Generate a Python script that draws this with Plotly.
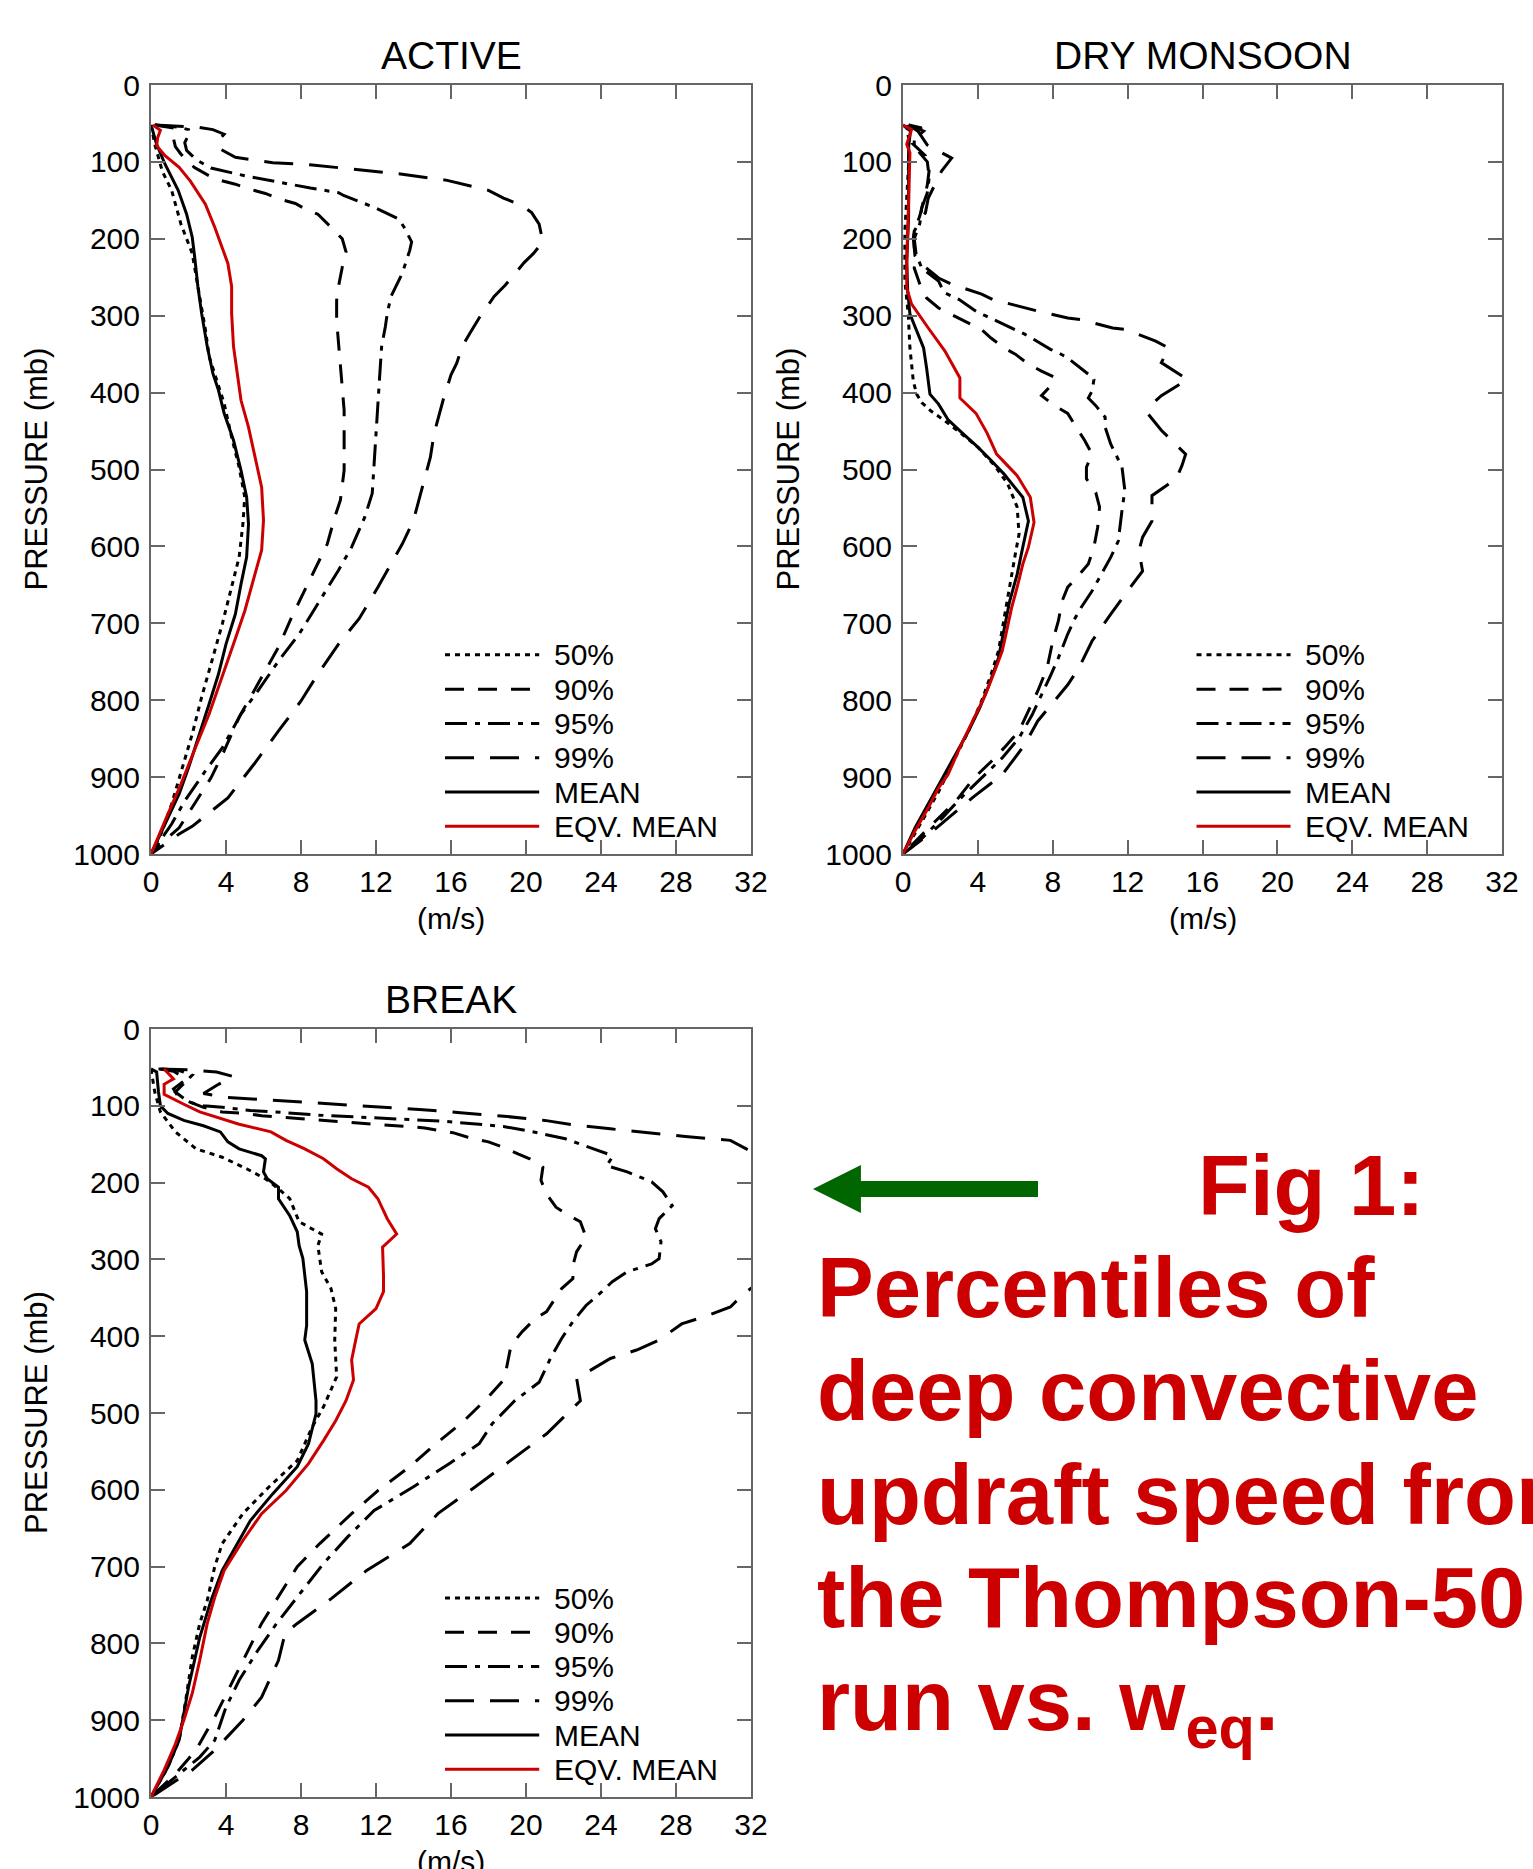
import plotly.graph_objects as go

# ---------------- DATA (pressure in mb, updraft speed in m/s) ----------------
ACTIVE_P50_p = [52, 77, 112, 137, 181, 219, 262, 318, 353, 375, 414, 458, 497, 536, 571, 614, 653, 701, 753, 796, 844, 892, 935, 970, 1000]
ACTIVE_P50_w = [0.0, 0.2, 0.6, 1.1, 1.6, 2.2, 2.5, 2.9, 3.1, 3.4, 3.9, 4.3, 4.7, 5.0, 4.9, 4.7, 4.3, 3.8, 3.2, 2.7, 2.2, 1.6, 1.1, 0.6, 0.0]
ACTIVE_P90_p = [52, 56, 62, 70, 80, 90, 107, 118, 124, 129, 135, 141, 148, 154, 161, 168, 185, 200, 217, 237, 262, 280, 306, 362, 401, 423, 466, 501, 540, 562, 597, 627, 657, 692, 731, 762, 792, 822, 866, 901, 935, 966, 983, 1000]
ACTIVE_P90_w = [0.2, 1.2, 1.4, 1.2, 1.3, 1.6, 2.3, 3.1, 3.7, 4.5, 5.2, 6.1, 6.8, 7.7, 8.2, 8.9, 9.6, 10.2, 10.4, 10.2, 10.0, 9.9, 9.9, 10.1, 10.2, 10.3, 10.3, 10.3, 10.1, 9.8, 9.4, 8.8, 8.2, 7.5, 6.8, 6.1, 5.4, 4.7, 3.9, 3.2, 2.3, 1.5, 0.7, 0.0]
ACTIVE_P95_p = [52, 55, 58, 65, 75, 85, 97, 108, 118, 126, 131, 134, 140, 144, 159, 166, 174, 185, 204, 215, 245, 275, 297, 314, 340, 377, 414, 458, 501, 531, 562, 601, 631, 675, 714, 749, 788, 818, 862, 892, 931, 961, 1000]
ACTIVE_P95_w = [0.2, 1.5, 2.0, 2.0, 1.8, 1.9, 2.4, 3.2, 5.0, 6.7, 7.8, 8.5, 10.0, 10.3, 11.9, 12.5, 13.2, 13.5, 13.9, 13.8, 13.4, 12.8, 12.6, 12.5, 12.3, 12.2, 12.1, 12.0, 11.9, 11.8, 11.4, 10.7, 10.0, 8.9, 7.9, 6.8, 5.7, 4.8, 3.8, 2.9, 1.8, 1.1, 0.0]
ACTIVE_P99_p = [52, 55, 58, 64, 72, 82, 94, 101, 104, 110, 116, 124, 137, 147, 157, 166, 181, 204, 219, 231, 260, 275, 303, 323, 340, 362, 377, 408, 453, 484, 529, 566, 597, 653, 694, 727, 766, 801, 840, 883, 927, 944, 964, 974, 1000]
ACTIVE_P99_w = [0.2, 2.5, 3.3, 3.9, 3.6, 3.6, 4.5, 6.5, 8.6, 11.1, 13.4, 15.8, 18.0, 18.8, 19.8, 20.3, 20.7, 20.9, 20.4, 19.9, 18.9, 18.3, 17.5, 17.0, 16.6, 16.3, 16.0, 15.6, 15.1, 14.9, 14.4, 14.0, 13.4, 12.1, 11.1, 10.0, 8.9, 8.0, 6.8, 5.5, 4.1, 3.2, 2.2, 1.5, 0.0]
ACTIVE_MEAN_p = [52, 77, 103, 137, 168, 198, 228, 262, 297, 340, 375, 397, 427, 462, 501, 536, 571, 614, 649, 688, 727, 766, 805, 844, 888, 922, 953, 979, 1000]
ACTIVE_MEAN_w = [0.0, 0.3, 0.75, 1.45, 1.9, 2.2, 2.35, 2.5, 2.7, 3.0, 3.3, 3.6, 3.9, 4.4, 4.8, 5.1, 5.2, 5.1, 4.8, 4.5, 4.0, 3.6, 3.1, 2.6, 2.0, 1.5, 0.9, 0.4, 0.0]
ACTIVE_EQV_p = [52, 59, 69, 79, 92, 107, 125, 155, 185, 232, 262, 297, 340, 375, 410, 445, 492, 523, 566, 605, 640, 684, 727, 770, 818, 866, 909, 948, 1000]
ACTIVE_EQV_w = [0.1, 0.5, 0.35, 0.3, 0.75, 1.5, 2.1, 2.9, 3.4, 4.1, 4.3, 4.3, 4.4, 4.6, 4.8, 5.2, 5.6, 5.9, 6.0, 5.9, 5.5, 5.0, 4.4, 3.8, 3.1, 2.3, 1.6, 0.9, 0.0]

DRY_P50_p = [52, 70, 103, 147, 190, 255, 298, 342, 385, 402, 413, 424, 436, 453, 471, 495, 519, 549, 584, 610, 653, 693, 736, 767, 801, 840, 880, 919, 958, 1000]
DRY_P50_w = [0.2, 0.3, 0.3, 0.2, 0.1, 0.1, 0.28, 0.37, 0.55, 0.73, 1.0, 1.5, 2.2, 3.1, 4.0, 4.9, 5.6, 6.1, 6.2, 6.0, 5.7, 5.4, 5.1, 4.7, 4.2, 3.5, 2.7, 1.9, 1.0, 0.0]
DRY_P90_p = [52, 56, 65, 76, 92, 110, 130, 150, 170, 190, 210, 222, 238, 259, 277, 290, 303, 307, 318, 329, 342, 350, 363, 372, 380, 391, 404, 417, 427, 443, 462, 480, 497, 512, 530, 549, 575, 601, 623, 640, 653, 671, 697, 723, 758, 788, 814, 840, 862, 880, 901, 932, 958, 980, 1000]
DRY_P90_w = [0.3, 1.0, 0.5, 0.5, 1.2, 1.4, 1.3, 1.1, 0.9, 0.6, 0.6, 0.7, 0.6, 0.9, 1.26, 1.9, 3.0, 3.3, 4.2, 4.7, 5.4, 6.0, 6.7, 7.4, 8.1, 7.9, 7.4, 8.1, 8.8, 9.2, 9.7, 10.1, 9.8, 9.8, 10.3, 10.5, 10.4, 10.2, 9.9, 9.3, 8.8, 8.5, 8.3, 8.0, 7.7, 7.2, 6.7, 6.2, 5.4, 4.7, 3.8, 2.8, 1.7, 0.8, 0.0]
DRY_P95_p = [52, 60, 70, 80, 100, 120, 140, 160, 180, 200, 220, 238, 255, 270, 279, 296, 300, 307, 320, 324, 331, 344, 348, 355, 376, 383, 398, 407, 417, 432, 445, 467, 497, 527, 553, 593, 614, 636, 658, 680, 693, 714, 745, 767, 793, 819, 849, 875, 901, 927, 953, 980, 1000]
DRY_P95_w = [0.3, 1.1, 0.6, 0.6, 1.3, 1.4, 1.3, 1.0, 0.9, 0.6, 0.7, 1.0, 1.9, 2.2, 3.0, 4.0, 4.4, 5.0, 6.1, 6.5, 7.0, 7.9, 8.3, 8.8, 9.9, 10.2, 10.1, 9.9, 10.3, 10.8, 10.8, 11.1, 11.7, 11.85, 11.7, 11.5, 11.1, 10.6, 10.1, 9.5, 9.2, 8.8, 8.3, 7.9, 7.4, 6.9, 6.2, 5.3, 4.2, 3.1, 2.1, 1.0, 0.0]
DRY_P99_p = [52, 60, 78, 95, 112, 147, 166, 190, 199, 222, 231, 251, 259, 272, 279, 290, 294, 303, 305, 316, 318, 333, 342, 361, 372, 383, 404, 415, 428, 449, 480, 495, 512, 534, 567, 588, 606, 632, 658, 688, 723, 758, 780, 801, 827, 858, 897, 925, 949, 975, 1000]
DRY_P99_w = [0.3, 0.8, 1.3, 2.6, 2.06, 1.35, 1.2, 0.6, 0.55, 0.64, 0.9, 1.9, 2.6, 4.2, 4.8, 6.5, 7.2, 8.8, 9.5, 11.2, 11.9, 13.5, 14.2, 13.8, 14.5, 15.2, 13.8, 13.3, 13.1, 13.8, 15.1, 14.9, 14.6, 13.3, 13.3, 12.8, 12.6, 12.8, 12.0, 11.1, 10.1, 9.4, 8.8, 8.1, 7.2, 6.5, 5.3, 3.8, 2.6, 1.35, 0.0]
DRY_MEAN_p = [52, 60, 80, 120, 170, 229, 268, 298, 324, 342, 368, 402, 415, 435, 451, 471, 488, 506, 536, 567, 601, 636, 671, 706, 745, 780, 810, 840, 871, 901, 936, 966, 1000]
DRY_MEAN_w = [0.0, 0.4, 0.3, 0.3, 0.3, 0.2, 0.25, 0.37, 0.8, 1.1, 1.26, 1.44, 1.9, 2.4, 3.1, 4.0, 4.7, 5.4, 6.4, 6.7, 6.4, 6.1, 5.7, 5.4, 5.1, 4.6, 4.1, 3.5, 2.8, 2.1, 1.35, 0.64, 0.0]
DRY_EQV_p = [52, 58, 77, 88, 168, 229, 264, 285, 316, 346, 381, 407, 427, 453, 480, 493, 508, 536, 569, 601, 623, 653, 680, 714, 736, 762, 793, 823, 858, 897, 914, 940, 970, 1000]
DRY_EQV_w = [0.0, 0.46, 0.2, 0.37, 0.28, 0.2, 0.2, 0.46, 1.35, 2.24, 3.04, 3.04, 3.9, 4.5, 5.0, 5.5, 6.1, 6.8, 7.0, 6.7, 6.4, 6.1, 5.8, 5.5, 5.3, 4.9, 4.4, 3.8, 3.1, 2.4, 1.9, 1.35, 0.64, 0.0]

BREAK_P50_p = [52, 82, 108, 134, 156, 167, 182, 195, 208, 221, 251, 258, 267, 282, 316, 338, 364, 405, 453, 492, 518, 562, 596, 631, 670, 700, 744, 774, 818, 874, 926, 961, 1000]
BREAK_P50_w = [0.0, 0.2, 0.5, 1.3, 2.4, 3.8, 5.1, 6.1, 6.8, 7.4, 7.9, 8.4, 9.1, 8.9, 9.1, 9.6, 9.85, 9.8, 9.9, 9.2, 8.6, 7.8, 6.3, 4.9, 3.8, 3.4, 3.0, 2.6, 2.2, 1.85, 1.5, 0.9, 0.0]
BREAK_P90_p = [52, 55, 65, 78, 90, 102, 108, 110, 113, 117, 119, 122, 124, 127, 129, 135, 141, 147, 154, 163, 169, 180, 197, 215, 232, 243, 251, 271, 290, 308, 325, 338, 360, 368, 377, 394, 412, 425, 449, 457, 479, 510, 544, 570, 601, 631, 670, 700, 735, 774, 813, 857, 896, 939, 970, 1000]
BREAK_P90_w = [0.5, 1.2, 1.9, 1.2, 1.5, 2.8, 3.8, 5.1, 5.9, 8.0, 9.1, 10.9, 11.9, 13.8, 14.6, 16.1, 16.9, 18.0, 18.8, 19.6, 20.2, 20.9, 20.8, 21.1, 21.6, 22.3, 22.9, 23.2, 22.7, 22.5, 22.5, 21.9, 21.3, 21.1, 20.5, 19.8, 19.2, 19.1, 18.9, 18.8, 18.0, 16.7, 15.0, 13.8, 12.1, 10.7, 9.0, 7.8, 6.9, 5.9, 5.1, 4.2, 3.4, 2.4, 1.3, 0.0]
BREAK_P95_p = [52, 54, 60, 70, 82, 95, 100, 102, 106, 109, 112, 114, 116, 118, 120, 124, 127, 133, 143, 156, 163, 167, 178, 186, 199, 212, 230, 247, 260, 277, 299, 306, 316, 329, 343, 360, 381, 403, 429, 460, 484, 514, 540, 566, 596, 627, 661, 696, 740, 774, 809, 848, 883, 926, 948, 970, 1000]
BREAK_P95_w = [0.6, 1.5, 2.2, 1.8, 1.3, 2.0, 2.8, 3.8, 5.3, 7.2, 8.8, 10.5, 12.1, 14.0, 15.5, 17.5, 18.8, 20.2, 22.1, 23.6, 24.4, 24.6, 24.3, 25.4, 26.7, 27.3, 27.8, 27.1, 26.9, 27.2, 27.1, 26.7, 25.4, 24.6, 24.0, 23.2, 22.5, 21.9, 21.3, 20.7, 19.4, 18.2, 17.5, 15.9, 14.0, 11.9, 10.5, 9.2, 7.8, 6.7, 5.7, 4.7, 4.0, 3.4, 2.6, 1.5, 0.0]
BREAK_P99_p = [52, 53, 56, 62, 72, 84, 89, 91, 94, 97, 101, 105, 109, 114, 119, 125, 130, 135, 140, 145, 162, 200, 260, 320, 345, 362, 373, 384, 405, 418, 429, 455, 484, 527, 562, 596, 631, 670, 705, 742, 774, 787, 822, 870, 900, 939, 965, 983, 1000]
BREAK_P99_w = [0.4, 2.0, 3.5, 4.4, 3.6, 2.8, 4.0, 5.3, 7.0, 9.5, 12.0, 14.5, 16.5, 19.0, 21.0, 22.6, 24.5, 26.5, 28.5, 30.9, 32.2, 34.0, 34.5, 33.0, 31.6, 30.9, 29.7, 28.3, 27.1, 25.9, 24.5, 22.7, 22.9, 21.1, 19.2, 17.3, 15.3, 13.8, 11.5, 9.6, 7.8, 7.15, 6.8, 5.9, 4.9, 3.4, 2.2, 1.1, 0.0]
BREAK_MEAN_p = [52, 56, 82, 100, 110, 119, 126, 134, 147, 156, 165, 169, 186, 195, 206, 221, 243, 264, 282, 299, 342, 386, 405, 436, 484, 501, 540, 570, 605, 640, 705, 744, 792, 857, 926, 961, 1000]
BREAK_MEAN_w = [0.0, 0.3, 0.4, 0.5, 0.9, 1.75, 2.8, 3.7, 4.1, 4.7, 5.9, 6.1, 6.0, 6.2, 6.8, 6.8, 7.4, 7.8, 7.9, 8.1, 8.3, 8.3, 8.2, 8.6, 8.8, 8.8, 8.4, 7.8, 6.5, 5.3, 3.8, 3.2, 2.6, 2.0, 1.5, 0.9, 0.0]
BREAK_EQV_p = [52, 65, 72, 85, 98, 108, 124, 134, 145, 156, 169, 182, 195, 206, 221, 247, 267, 284, 321, 342, 364, 384, 407, 431, 457, 484, 510, 536, 566, 601, 631, 666, 705, 740, 774, 822, 865, 900, 931, 965, 1000]
BREAK_EQV_w = [0.7, 1.2, 0.7, 0.7, 1.75, 2.6, 4.7, 6.4, 7.2, 8.2, 9.2, 9.9, 10.7, 11.6, 12.1, 12.6, 13.1, 12.35, 12.4, 12.4, 12.0, 11.1, 10.9, 10.7, 10.8, 10.4, 9.85, 9.2, 8.4, 7.2, 5.9, 4.9, 3.9, 3.4, 3.0, 2.6, 2.2, 1.75, 1.3, 0.7, 0.0]

PANEL_TITLES = ["ACTIVE", "DRY MONSOON", "BREAK"]
SERIES_NAMES = ["50%", "90%", "95%", "99%", "MEAN", "EQV. MEAN"]
X_TICKS = [0, 4, 8, 12, 16, 20, 24, 28, 32]
Y_TICKS = [0, 100, 200, 300, 400, 500, 600, 700, 800, 900, 1000]
CAPTION_LINES = ["Percentiles of", "deep convective", "updraft speed from",
                 "the Thompson-50", "run vs. w<sub>eq</sub>."]

PANELS = [
    [(ACTIVE_P50_w, ACTIVE_P50_p), (ACTIVE_P90_w, ACTIVE_P90_p), (ACTIVE_P95_w, ACTIVE_P95_p),
     (ACTIVE_P99_w, ACTIVE_P99_p), (ACTIVE_MEAN_w, ACTIVE_MEAN_p), (ACTIVE_EQV_w, ACTIVE_EQV_p)],
    [(DRY_P50_w, DRY_P50_p), (DRY_P90_w, DRY_P90_p), (DRY_P95_w, DRY_P95_p),
     (DRY_P99_w, DRY_P99_p), (DRY_MEAN_w, DRY_MEAN_p), (DRY_EQV_w, DRY_EQV_p)],
    [(BREAK_P50_w, BREAK_P50_p), (BREAK_P90_w, BREAK_P90_p), (BREAK_P95_w, BREAK_P95_p),
     (BREAK_P99_w, BREAK_P99_p), (BREAK_MEAN_w, BREAK_MEAN_p), (BREAK_EQV_w, BREAK_EQV_p)],
]

# ---------------- STYLE ----------------
W, H = 1533, 1869
FONT = "Liberation Sans, Arial, Helvetica, sans-serif"
RED = "#cc0000"
STYLES = [("black", "5px,5px"), ("black", "19px,14px"), ("black", "22px,8px,5px,8px"),
          ("black", "29px,16px"), ("black", "solid"), (RED, "solid")]
AXCOL = "#666666"

# pixel boxes (left, right, top, bottom)
BOXES = [(151, 751, 85, 854), (903, 1502, 85, 854), (151, 751, 1029, 1797)]


def px(x):
    return x / W


def py(y):
    return 1 - y / H


fig = go.Figure()
annotations = []
shapes = []

for i, (series, box) in enumerate(zip(PANELS, BOXES)):
    n = "" if i == 0 else str(i + 1)
    xa, ya = "x" + n, "y" + n
    l, r, t, b = box
    for (w, p), name, (col, dash) in zip(series, SERIES_NAMES, STYLES):
        fig.add_trace(go.Scatter(x=w, y=p, mode="lines", name=name, showlegend=False,
                                 line=dict(color=col, width=3, dash=dash),
                                 xaxis=xa, yaxis=ya))
    axis_common = dict(showgrid=False, zeroline=False, showline=True, mirror="allticks",
                       linecolor=AXCOL, linewidth=2, ticks="inside", ticklen=14,
                       tickwidth=2, tickcolor=AXCOL, automargin=False,
                       tickfont=dict(family=FONT, size=30, color="black"))
    fig.update_layout(**{
        "xaxis" + n: dict(domain=[px(l), px(r)], range=[0, 32], tickvals=X_TICKS,
                          anchor=ya, **axis_common),
        "yaxis" + n: dict(domain=[py(b), py(t)], range=[1000, 0], tickvals=Y_TICKS,
                          anchor=xa, ticklabelstandoff=3, **axis_common),
    })
    cx = (l + r) / 2
    annotations.append(dict(text=PANEL_TITLES[i], x=px(cx), y=py(t - 30), xref="paper", yref="paper",
                            showarrow=False, font=dict(family=FONT, size=39, color="black"),
                            xanchor="center", yanchor="middle"))
    annotations.append(dict(text="(m/s)", x=px(cx), y=py(b + 64), xref="paper", yref="paper",
                            showarrow=False, font=dict(family=FONT, size=30, color="black"),
                            xanchor="center", yanchor="middle"))
    annotations.append(dict(text="PRESSURE (mb)", x=px(l - 115), y=py((t + b) / 2),
                            xref="paper", yref="paper", textangle=-90, showarrow=False,
                            font=dict(family=FONT, size=31, color="black"),
                            xanchor="center", yanchor="middle"))
    # legend (drawn inside the panel, lower right)
    for k, (name, (col, dash)) in enumerate(zip(SERIES_NAMES, STYLES)):
        yy = 0.259 - k * 0.0446
        shapes.append(dict(type="line", xref=xa + " domain", yref=ya + " domain",
                           x0=0.49, x1=0.647, y0=yy, y1=yy,
                           line=dict(color=col, width=3, dash=dash)))
        annotations.append(dict(text=name, xref=xa + " domain", yref=ya + " domain",
                                x=0.668, y=yy, showarrow=False, xanchor="left", yanchor="middle",
                                font=dict(family=FONT, size=30, color="black")))

# green arrow pointing to the BREAK panel
ax_tip, ay = 813, 1189
head_x, shaft_end = 861, 1038
hh, sh = 24, 8
path = ("M {:.4f},{:.4f} L {:.4f},{:.4f} L {:.4f},{:.4f} L {:.4f},{:.4f} "
        "L {:.4f},{:.4f} L {:.4f},{:.4f} L {:.4f},{:.4f} Z").format(
    px(ax_tip), py(ay), px(head_x), py(ay - hh), px(head_x), py(ay - sh),
    px(shaft_end), py(ay - sh), px(shaft_end), py(ay + sh), px(head_x), py(ay + sh),
    px(head_x), py(ay + hh))
shapes.append(dict(type="path", xref="paper", yref="paper", path=path,
                   fillcolor="#006600", line=dict(width=0)))

# caption text
annotations.append(dict(text="Fig 1:", x=px(1196), y=py(1136), xref="paper", yref="paper",
                        showarrow=False, xanchor="left", yanchor="top",
                        font=dict(family=FONT, size=85, color=RED, weight="bold")))
for k, line in enumerate(CAPTION_LINES):
    annotations.append(dict(text=line, x=px(815), y=py(1238 + k * 103.3), xref="paper", yref="paper",
                            showarrow=False, xanchor="left", yanchor="top",
                            font=dict(family=FONT, size=85, color=RED, weight="bold")))

fig.update_layout(width=W, height=H,
                  margin=dict(l=0, r=0, t=0, b=0, pad=0, autoexpand=False),
                  paper_bgcolor="white", plot_bgcolor="white",
                  annotations=annotations, shapes=shapes, showlegend=False)

fig.write_html("out.html")
